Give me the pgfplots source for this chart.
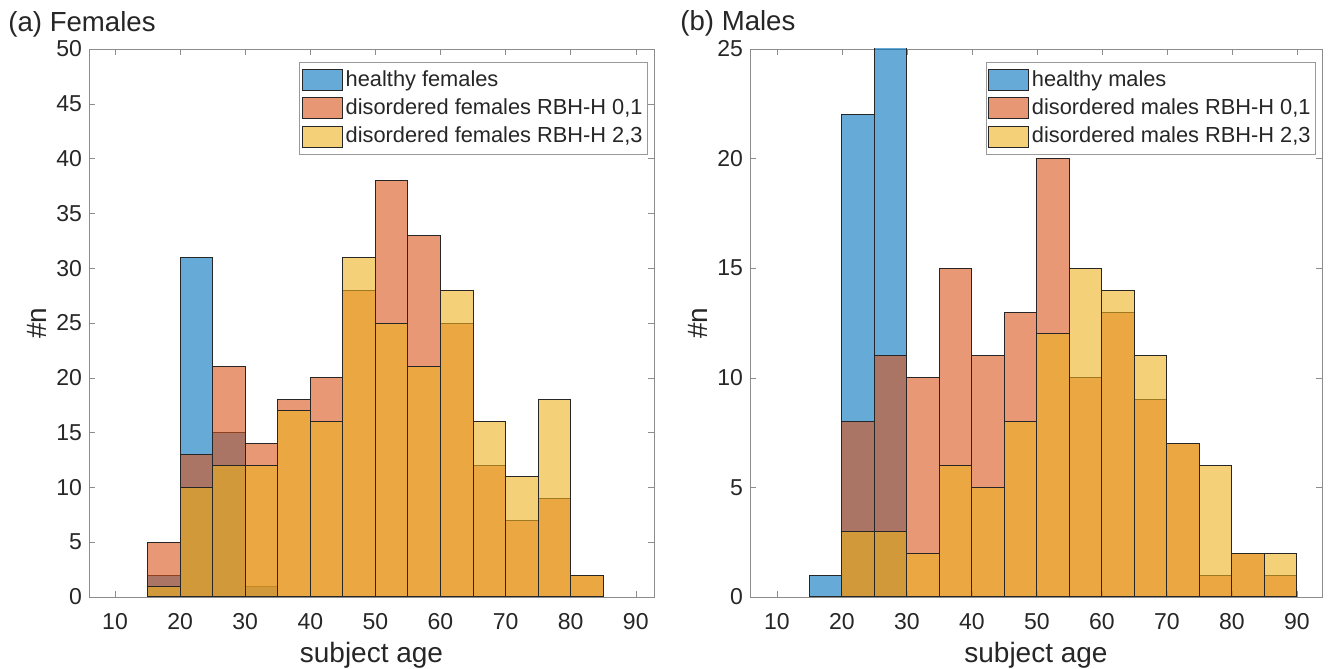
\documentclass[border=0pt]{standalone}
\usepackage{fontspec}
\setmainfont{Liberation Sans}
\usepackage{pgfplots}
\pgfplotsset{compat=1.18}

\definecolor{mblue}{rgb}{0,0.447,0.741}
\definecolor{morange}{rgb}{0.85,0.325,0.098}
\definecolor{myellow}{rgb}{0.929,0.694,0.125}

\pgfplotsset{
  histo/.style={
    scale only axis,
    height=274pt,
    ymin=0,
    xtick={10,20,...,90},
    tick align=inside,
    major tick length=3pt,
    axis line style={black!45},
    tick style={black!45},
    /pgf/number format/assume math mode=true,
    every tick label/.append style={font=\fontsize{11.5}{13}\selectfont, text=black!85},
    xticklabel style={yshift=-4.5pt},
    label style={font=\fontsize{14}{16}\selectfont, text=black!85},
    xlabel={subject age},
    ylabel={\#n},
    xlabel style={at={(rel axis cs:0.5,0)}, anchor=center, yshift=-29pt},
    ylabel style={at={(rel axis cs:0,0.5)}, anchor=center, yshift=26pt},
    title style={at={(rel axis cs:0,1)}, anchor=base west, yshift=3pt,
      inner sep=0pt, font=\fontsize{13.8}{16}\selectfont, text=black!85},
    legend cell align=left,
    legend image code/.code={\draw[##1] (0pt,-5.25pt) rectangle (20pt,5.25pt);},
    legend style={at={(rel axis cs:1,1)}, anchor=north east,
      xshift=-3pt, yshift=-6.5pt, draw=black!40,
      font=\fontsize{10.9}{12}\selectfont, text=black!85,
      inner xsep=1pt, inner ysep=3pt, row sep=2.8pt,
      nodes={inner xsep=1.5pt, inner ysep=1pt}},
  },
  bar/.style={ybar interval, fill=#1, fill opacity=0.6, draw=black!85, line width=0.5pt},
}

\begin{document}
\begin{tikzpicture}
\useasboundingbox (-44.5pt,-36pt) rectangle (620.5pt,298.5pt);

\begin{axis}[histo,
    width=282.5pt,
    xmin=6, xmax=92.8,
    ymax=50, ytick={0,5,...,50},
    title={(a) Females},
    title style={xshift=-40.5pt},
  ]
  \addplot[bar=mblue] coordinates {
    (15,2) (20,31) (25,15) (30,1) (35,0)
  };
  \addplot[bar=morange] coordinates {
    (15,5) (20,13) (25,21) (30,14) (35,18) (40,20) (45,28) (50,38)
    (55,33) (60,25) (65,12) (70,7) (75,9) (80,2) (85,0)
  };
  \addplot[bar=myellow] coordinates {
    (15,1) (20,10) (25,12) (30,12) (35,17) (40,16) (45,31) (50,25)
    (55,21) (60,28) (65,16) (70,11) (75,18) (80,2) (85,0)
  };
  \legend{healthy females, {disordered females RBH-H 0,1}, {disordered females RBH-H 2,3}}
\end{axis}

\begin{axis}[histo,
    at={(330.5pt,0pt)},
    width=286pt,
    xmin=5.85, xmax=93.85,
    ymax=25, ytick={0,5,...,25},
    title={(b) Males},
    title style={xshift=-35pt},
  ]
  \addplot[bar=mblue] coordinates {
    (15,1) (20,22) (25,27) (30,0)
  };
  \addplot[bar=morange] coordinates {
    (20,8) (25,11) (30,10) (35,15) (40,11) (45,13) (50,20) (55,10)
    (60,13) (65,9) (70,7) (75,1) (80,2) (85,1) (90,0)
  };
  \addplot[bar=myellow] coordinates {
    (20,3) (25,3) (30,2) (35,6) (40,5) (45,8) (50,12) (55,15)
    (60,14) (65,11) (70,7) (75,6) (80,2) (85,2) (90,0)
  };
  \legend{healthy males, {disordered males RBH-H 0,1}, {disordered males RBH-H 2,3}}
\end{axis}
\end{tikzpicture}
\end{document}
